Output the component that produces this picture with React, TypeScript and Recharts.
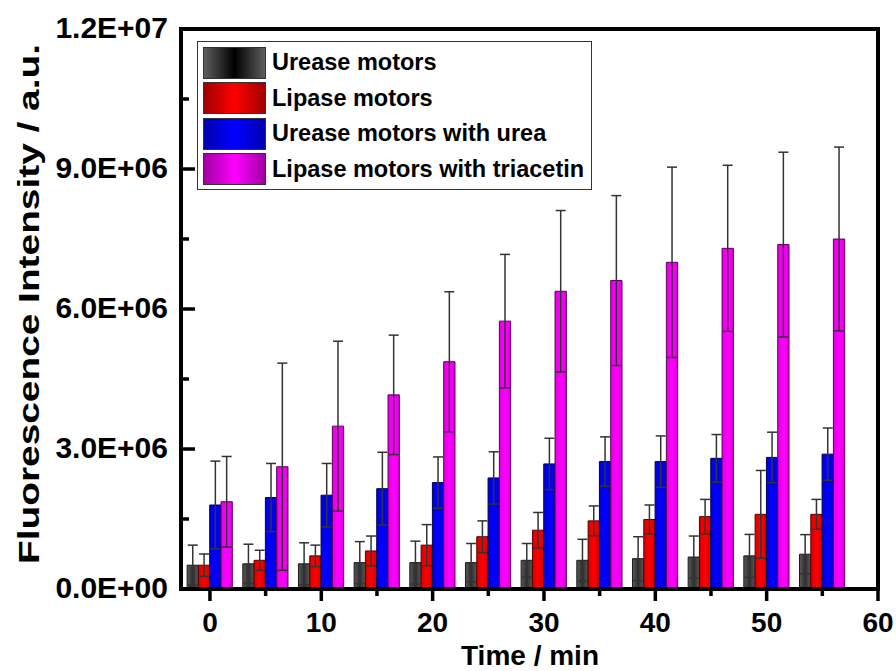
import React from 'react';
import { BarChart, Bar, XAxis, YAxis, ErrorBar, Legend } from 'recharts';

// time points (min)
const times = [0, 5, 10, 15, 20, 25, 30, 35, 40, 45, 50, 55];

const ureaseMotors = [5.1e5, 5.4e5, 5.4e5, 5.65e5, 5.65e5, 5.65e5, 6.15e5, 6.15e5, 6.5e5, 6.85e5, 7.1e5, 7.45e5];
const ureaseMotorsErr = [4.3e5, 4.2e5, 4.5e5, 4.5e5, 4.6e5, 4.1e5, 3.6e5, 4.5e5, 4.7e5, 4.5e5, 4.6e5, 4.2e5];
const lipaseMotors = [5.1e5, 6.15e5, 7.1e5, 8.15e5, 9.4e5, 1.12e6, 1.26e6, 1.46e6, 1.49e6, 1.55e6, 1.6e6, 1.6e6];
const lipaseMotorsErr = [2.4e5, 2.15e5, 2.3e5, 3.2e5, 4.4e5, 3.4e5, 3.8e5, 3.2e5, 3.1e5, 3.7e5, 9.4e5, 3.2e5];
const ureaseUrea = [1.8e6, 1.96e6, 2.01e6, 2.15e6, 2.28e6, 2.38e6, 2.68e6, 2.73e6, 2.73e6, 2.8e6, 2.82e6, 2.89e6];
const ureaseUreaErr = [0.94e6, 0.73e6, 0.68e6, 0.78e6, 0.55e6, 0.56e6, 0.55e6, 0.53e6, 0.55e6, 0.51e6, 0.54e6, 0.56e6];
const lipaseTriacetin = [1.87e6, 2.62e6, 3.49e6, 4.16e6, 4.87e6, 5.74e6, 6.38e6, 6.61e6, 7.0e6, 7.3e6, 7.38e6, 7.5e6];
const lipaseTriacetinErr = [0.97e6, 2.22e6, 1.82e6, 1.28e6, 1.5e6, 1.43e6, 1.73e6, 1.82e6, 2.04e6, 1.78e6, 1.98e6, 1.97e6];

const xTicks = [0, 5, 10, 15, 20, 25, 30, 35, 40, 45, 50, 55, 60];
const yTicks = [0, 1.5e6, 3e6, 4.5e6, 6e6, 7.5e6, 9e6, 1.05e7, 1.2e7];

const seriesNames = ['Urease motors', 'Lipase motors', 'Urease motors with urea', 'Lipase motors with triacetin'];

const data = times.map((t, i) => ({
  time: t,
  urease: ureaseMotors[i],
  ureaseErr: ureaseMotorsErr[i],
  lipase: lipaseMotors[i],
  lipaseErr: lipaseMotorsErr[i],
  ureaseUrea: ureaseUrea[i],
  ureaseUreaErr: ureaseUreaErr[i],
  lipaseTri: lipaseTriacetin[i],
  lipaseTriErr: lipaseTriacetinErr[i],
}));

const FONT = '"Liberation Sans", Arial, sans-serif';
// plot box (px)
const PLOT_LEFT = 181;
const PLOT_TOP = 29;
const PLOT_RIGHT = 878;
const PLOT_BOTTOM = 589;
const X_DOMAIN: [number, number] = [-2.6, 60];
const Y_DOMAIN: [number, number] = [0, 1.2e7];

const swatches = [
  'linear-gradient(to right, #5e5e5e, #000 50%, #5e5e5e)',
  'linear-gradient(to right, #a00000, #ff0000 50%, #a00000)',
  'linear-gradient(to right, #0000b0, #0000ff 50%, #0000b0)',
  'linear-gradient(to right, #a000a0, #ff00ff 50%, #a000a0)',
];

const fmtSci = (v: number) => {
  const [m, e] = v.toExponential(1).split('e');
  const n = parseInt(e, 10);
  return `${m}E${n < 0 ? '-' : '+'}${String(Math.abs(n)).padStart(2, '0')}`;
};

const YTick = (props: any) => {
  const { y, payload } = props;
  const major = Math.round(payload.value / 1.5e6) % 2 === 0;
  return (
    <g>
      <line x1={PLOT_LEFT} x2={PLOT_LEFT + (major ? 14 : 8)} y1={y} y2={y} stroke="#000" strokeWidth={3.5} />
      {major && (
        <text x={168} y={y + 9} textAnchor="end" fontSize={30} fontWeight="bold" fontFamily={FONT} fill="#000">
          {fmtSci(payload.value)}
        </text>
      )}
    </g>
  );
};

const XTick = (props: any) => {
  const { x, payload } = props;
  const major = payload.value % 10 === 0;
  return (
    <g>
      <line x1={x} x2={x} y1={PLOT_BOTTOM} y2={PLOT_BOTTOM + (major ? 12 : 7)} stroke="#000" strokeWidth={3.5} />
      {major && (
        <text x={x} y={632} textAnchor="middle" fontSize={28} fontWeight="bold" fontFamily={FONT} fill="#000">
          {payload.value}
        </text>
      )}
    </g>
  );
};

const renderLegend = () => (
  <div style={{ border: '1.5px solid #333', background: '#fff', padding: '3px 0 4px 5px', boxSizing: 'border-box', width: 395, height: 149 }}>
    {seriesNames.map((name, i) => (
      <div key={name} style={{ display: 'flex', alignItems: 'center', height: 35.5 }}>
        <div style={{ width: 63, height: 32, background: swatches[i], border: '1.5px solid #333', boxSizing: 'border-box' }} />
        <span style={{ marginLeft: 6, fontFamily: FONT, fontWeight: 'bold', fontSize: 23.5, color: '#000', whiteSpace: 'nowrap' }}>
          {name}
        </span>
      </div>
    ))}
  </div>
);

export default function App() {
  return (
    <div style={{ position: 'absolute', left: 0, top: 0, width: 896, height: 671, background: '#fff' }}>
      <BarChart
        width={896}
        height={671}
        data={data}
        margin={{ top: PLOT_TOP, right: 896 - PLOT_RIGHT, bottom: 0, left: 11 }}
        barGap={0}
        barSize={11.3}
      >
        <defs>
          <linearGradient id="gGray" x1="0" y1="0" x2="1" y2="0">
            <stop offset="0%" stopColor="#5a5a5a" />
            <stop offset="50%" stopColor="#2e2e2e" />
            <stop offset="100%" stopColor="#5a5a5a" />
          </linearGradient>
          <linearGradient id="gRed" x1="0" y1="0" x2="1" y2="0">
            <stop offset="0%" stopColor="#d80000" />
            <stop offset="50%" stopColor="#ff0000" />
            <stop offset="100%" stopColor="#d80000" />
          </linearGradient>
          <linearGradient id="gBlue" x1="0" y1="0" x2="1" y2="0">
            <stop offset="0%" stopColor="#0000d8" />
            <stop offset="50%" stopColor="#0000ff" />
            <stop offset="100%" stopColor="#0000d8" />
          </linearGradient>
          <linearGradient id="gMag" x1="0" y1="0" x2="1" y2="0">
            <stop offset="0%" stopColor="#e000e0" />
            <stop offset="50%" stopColor="#ff00ff" />
            <stop offset="100%" stopColor="#e000e0" />
          </linearGradient>
        </defs>
        <XAxis
          dataKey="time"
          type="number"
          domain={X_DOMAIN}
          ticks={xTicks}
          interval={0}
          height={671 - PLOT_BOTTOM}
          tickLine={false}
          axisLine={{ stroke: '#000', strokeWidth: 4 }}
          tick={<XTick />}
          allowDataOverflow
        />
        <YAxis
          type="number"
          domain={Y_DOMAIN}
          ticks={yTicks}
          interval={0}
          width={PLOT_LEFT - 11}
          tickLine={false}
          axisLine={{ stroke: '#000', strokeWidth: 4 }}
          tick={<YTick />}
          allowDataOverflow
        />
        <Legend layout="vertical" align="center" verticalAlign="middle" content={renderLegend} wrapperStyle={{ left: 197, top: 41, width: 395, height: 149 }} />
        <Bar dataKey="urease" name={seriesNames[0]} fill="url(#gGray)" stroke="#1a1a1a" strokeWidth={1} isAnimationActive={false}>
          <ErrorBar dataKey="ureaseErr" direction="y" width={5} stroke="#333" strokeWidth={1.5} />
        </Bar>
        <Bar dataKey="lipase" name={seriesNames[1]} fill="url(#gRed)" stroke="#5a0000" strokeWidth={1} isAnimationActive={false}>
          <ErrorBar dataKey="lipaseErr" direction="y" width={5} stroke="#333" strokeWidth={1.5} />
        </Bar>
        <Bar dataKey="ureaseUrea" name={seriesNames[2]} fill="url(#gBlue)" stroke="#00005a" strokeWidth={1} isAnimationActive={false}>
          <ErrorBar dataKey="ureaseUreaErr" direction="y" width={5} stroke="#333" strokeWidth={1.5} />
        </Bar>
        <Bar dataKey="lipaseTri" name={seriesNames[3]} fill="url(#gMag)" stroke="#5a005a" strokeWidth={1} isAnimationActive={false}>
          <ErrorBar dataKey="lipaseTriErr" direction="y" width={5} stroke="#333" strokeWidth={1.5} />
        </Bar>
        {/* plot frame */}
        <rect
          x={PLOT_LEFT}
          y={PLOT_TOP}
          width={PLOT_RIGHT - PLOT_LEFT}
          height={PLOT_BOTTOM - PLOT_TOP}
          fill="none"
          stroke="#000"
          strokeWidth={4}
        />
        <text
          x={28}
          y={304}
          transform="rotate(-90 28 304)"
          textAnchor="middle"
          dominantBaseline="central"
          fontSize={30}
          fontWeight="bold"
          fontFamily={FONT}
          textLength={520}
          lengthAdjust="spacingAndGlyphs"
          fill="#000"
        >
          Fluorescence Intensity / a.u.
        </text>
        <text x={530} y={665} textAnchor="middle" fontSize={28} fontWeight="bold" fontFamily={FONT} fill="#000">
          Time / min
        </text>
      </BarChart>
    </div>
  );
}
